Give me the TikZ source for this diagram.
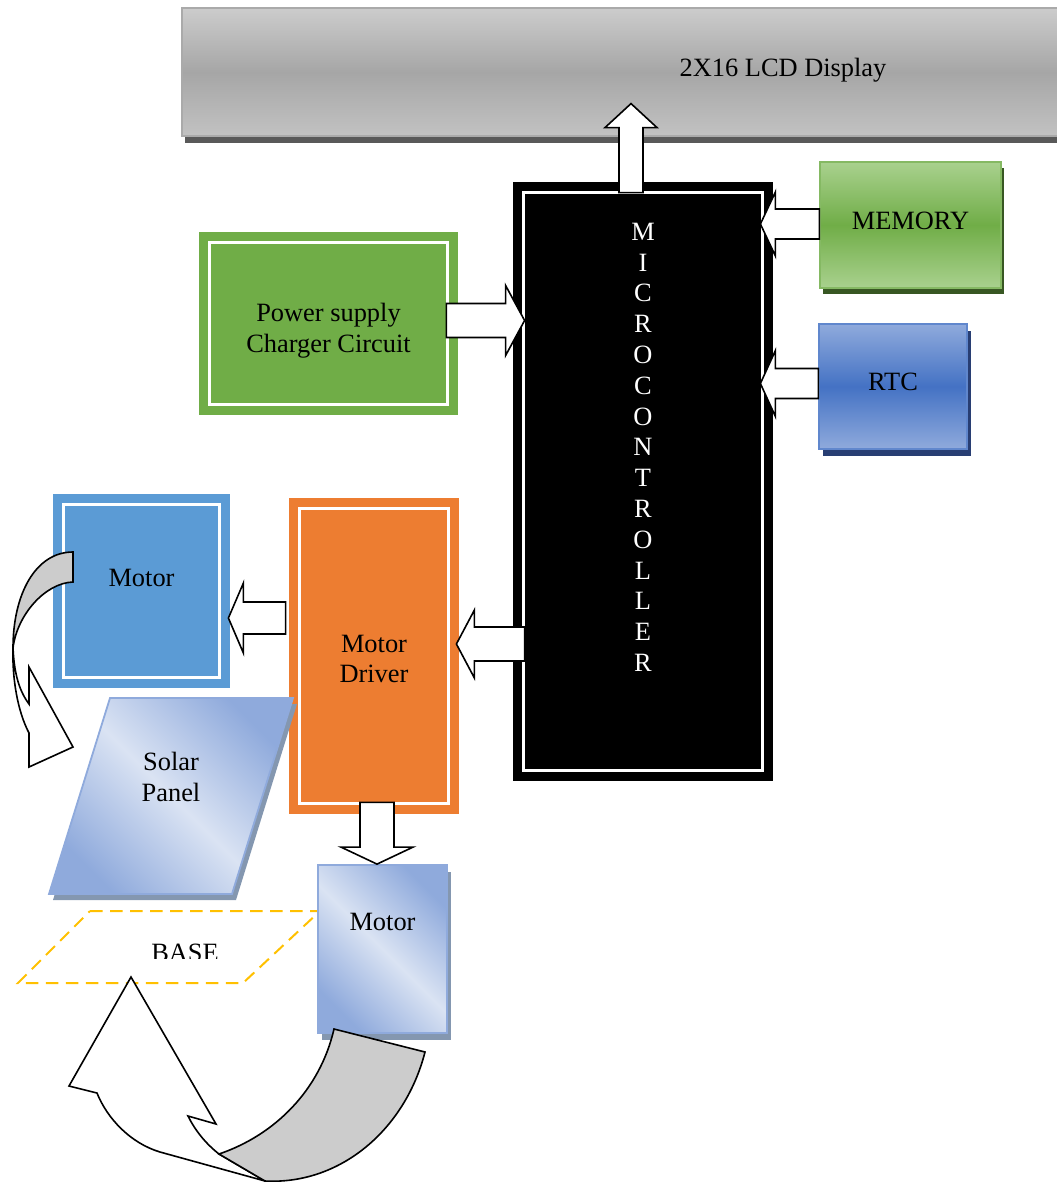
\documentclass[tikz,border=0pt]{standalone}
\usepackage{fontspec}
\setmainfont{Liberation Serif}
\usetikzlibrary{calc, shadows}

\definecolor{lcdlight}{RGB}{204,204,204}
\definecolor{lcdmid}{RGB}{166,166,166}
\definecolor{lcdlow}{RGB}{194,194,194}
\definecolor{lcdedge}{RGB}{170,170,170}
\definecolor{lcdshadow}{RGB}{89,89,89}
\definecolor{pwrgreen}{RGB}{112,173,71}
\definecolor{memlight}{RGB}{169,209,142}
\definecolor{memshadow}{RGB}{56,87,35}
\definecolor{rtclight}{RGB}{143,170,220}
\definecolor{rtcmid}{RGB}{68,114,196}
\definecolor{rtcshadow}{RGB}{40,62,115}
\definecolor{motorblue}{RGB}{91,155,213}
\definecolor{drvorange}{RGB}{237,125,49}
\definecolor{panellight}{RGB}{218,227,243}
\definecolor{paneldark}{RGB}{143,170,220}
\definecolor{panelshadow}{RGB}{132,151,176}
\definecolor{basegold}{RGB}{255,192,0}
\definecolor{bandgray}{RGB}{204,204,204}

\tikzset{
  block/.style={rectangle, inner sep=0pt, align=center},
  whiteline/.style={draw=white, line width=1.8pt},
  fatline/.style={draw=black, fill=white, line width=0.8pt, line join=miter},
  bandline/.style={draw=black, fill=bandgray, line width=0.8pt},
  shadowed/.style n args={3}{drop shadow={shadow xshift=#1, shadow yshift=#2, fill=#3, opacity=1}},
  panel/.style={draw=paneldark, line width=0.9pt, top color=paneldark, bottom color=paneldark,
    middle color=panellight, shading angle=-45},
  basedash/.style={draw=basegold, line width=1pt, dash pattern=on 6.3pt off 3.7pt}
}

% white frame inside a coloured box
\newcommand\innerframe[1]{%
  \draw[whiteline] ($(#1.north west)+(11,11)$) rectangle ($(#1.south east)+(-11,-11)$);}

% block arrow: from, to, shaft half width, head half width, head length
\newcommand\fatarrow[5]{%
  \coordinate (fa-h) at ($(#2)!#5!(#1)$);
  \draw[fatline] ($(#1)!#3!90:(#2)$) -- ($(fa-h)!#3!-90:(#1)$) -- ($(fa-h)!#4!-90:(#1)$)
    -- (#2) -- ($(fa-h)!#4!90:(#1)$) -- ($(fa-h)!#3!90:(#1)$) -- ($(#1)!#3!-90:(#2)$) -- cycle;}

\begin{document}
\begin{tikzpicture}[x=0.5pt, y=-0.5pt, font=\fontsize{13.2}{15.4}\selectfont]
\useasboundingbox (0,0) rectangle (1056,1182);

% display
\node[block, minimum width=601pt, minimum height=64pt, draw=lcdedge, line width=0.6pt,
  top color=lcdlight, bottom color=lcdlow, middle color=lcdmid, text depth=5pt,
  shadowed={1.5pt}{-3.5pt}{lcdshadow}] (lcd) at (783,72) {2X16 LCD Display};

% controller
\node[block, minimum width=130pt, minimum height=299.5pt, fill=black] (mcu) at (643,481.5) {};
\innerframe{mcu}
\node[block, text=white, anchor=north] (mcutext) at ($(mcu.north)+(0,41)$)
  {M\\I\\C\\R\\O\\C\\O\\N\\T\\R\\O\\L\\L\\E\\R};

% boxes round it
\node[block, minimum width=129.5pt, minimum height=91.5pt, fill=pwrgreen] (pwr) at (328.5,323.5) {};
\innerframe{pwr}
\node[block] (pwrtext) at ($(pwr)+(0,7)$) {Power supply\\Charger Circuit};
\node[block, minimum width=90.5pt, minimum height=63pt, draw=pwrgreen!85!white, line width=0.7pt,
  top color=memlight, bottom color=memlight, middle color=pwrgreen, text depth=4pt,
  shadowed={1.5pt}{-3pt}{memshadow}] (mem) at (910.5,225) {MEMORY};
\node[block, minimum width=74pt, minimum height=62.5pt, draw=rtcmid!85!white, line width=0.7pt,
  top color=rtclight, bottom color=rtclight, middle color=rtcmid, text depth=4.5pt,
  shadowed={2pt}{-3.5pt}{rtcshadow}] (rtc) at (893,386.5) {RTC};
\node[block, minimum width=85pt, minimum height=158pt, fill=drvorange] (drv) at (374,656) {};
\innerframe{drv}
\node[block] (drvtext) at ($(drv)+(0,3)$) {Motor\\Driver};
\node[block, minimum width=88.5pt, minimum height=97pt, fill=motorblue, text depth=13pt] (mtop)
  at (141.5,591) {Motor};
\innerframe{mtop}

% panel and base
\draw[panel, shadowed={2pt}{-3pt}{panelshadow}] (110,698) -- (293,698) -- (232,894) -- (49,894) -- cycle;
\node[block] (solar) at (171,777) {Solar\\Panel};
\draw[basedash] (90,911) -- (320,911) -- (243,983) -- (18,983) -- cycle;
\begin{scope}
  \clip (0,900) rectangle (340,958);
  \node[block, anchor=base] (base) at (185,961) {BASE};
\end{scope}
\node[block, minimum width=64.5pt, minimum height=84pt, draw=paneldark, line width=0.9pt,
  top color=paneldark, bottom color=paneldark, middle color=panellight, shading angle=-45,
  text depth=27pt, shadowed={2pt}{-3.5pt}{panelshadow}] (mbot) at (382.5,949) {Motor};

% arrow ends
\coordinate (mcu-up) at ($(mcu.north)+(-12,11)$);
\coordinate (lcd-in) at ($(mcu.north |- lcd.south)+(-12,-33)$);
\coordinate (pwr-out) at ($(pwr.east)+(-12,-3)$);
\coordinate (mcu-pwr) at ($(mcu.west |- pwr.east)+(12,-3)$);
\coordinate (mem-out) at ($(mem.west)+(0,-1)$);
\coordinate (mcu-mem) at ($(mcu.east |- mem.west)+(-13,-1)$);
\coordinate (rtc-out) at ($(rtc.west)+(0,-3)$);
\coordinate (mcu-rtc) at ($(mcu.east |- rtc.west)+(-13,-3)$);
\coordinate (mcu-drv) at ($(mcu.west |- drv.east)+(12,-12)$);
\coordinate (drv-in) at ($(drv.east)+(-3,-12)$);
\coordinate (drv-mot) at ($(drv.west |- mtop.east)+(-3,27)$);
\coordinate (mot-in) at ($(mtop.east)+(-2,27)$);
\coordinate (drv-down) at ($(drv.south)+(3,-12)$);
\coordinate (mbot-in) at (mbot.north -| drv-down);

\fatarrow{mcu-up}{lcd-in}{6pt}{13pt}{12pt}
\fatarrow{pwr-out}{mcu-pwr}{8.5pt}{17.5pt}{9.5pt}
\fatarrow{mem-out}{mcu-mem}{7.5pt}{16pt}{7.5pt}
\fatarrow{rtc-out}{mcu-rtc}{7.5pt}{16.5pt}{7.5pt}
\fatarrow{mcu-drv}{drv-in}{8.5pt}{17pt}{9pt}
\fatarrow{drv-mot}{mot-in}{8pt}{17.5pt}{7.5pt}
\fatarrow{drv-down}{mbot-in}{8.5pt}{18pt}{8.5pt}

% turning arrow at the upper motor
\draw[fatline] (13,647) .. controls (14,675) and (20,692) .. (29,704) -- (29,667) -- (73,747)
  -- (29,767) -- (29,733) .. controls (18,712) and (12,680) .. (13,647) -- cycle;
\draw[bandline] (73,552) -- (73,582) .. controls (45,583) and (17,615) .. (13,648)
  .. controls (13,595) and (35,552) .. (73,552) -- cycle;

% turning arrow at the lower motor
\draw[fatline] (219,1154) .. controls (205,1143) and (195,1130) .. (188,1116) -- (216,1124)
  -- (131,977) -- (69,1086) -- (97,1093) .. controls (107,1118) and (130,1143) .. (160,1152)
  -- (265,1181) -- cycle;
\draw[bandline] (334,1029) -- (425,1052) .. controls (405,1130) and (340,1185) .. (265,1181)
  -- (219,1154) .. controls (275,1135) and (320,1090) .. (334,1029) -- cycle;
\end{tikzpicture}
\end{document}
